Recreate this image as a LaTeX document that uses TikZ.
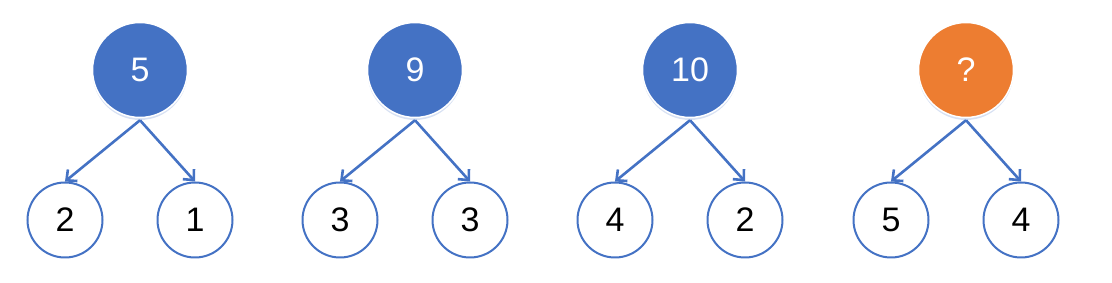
\documentclass[tikz,border=0pt]{standalone}
\usepackage{fontspec}
\setmainfont{Liberation Sans}
\usetikzlibrary{arrows.meta,positioning,shadows}
\definecolor{nodeblue}{HTML}{4472C4}
\definecolor{nodeorange}{HTML}{ED7D31}

\begin{document}
\begin{tikzpicture}[x=1pt,y=1pt,
  sum/.style={circle,draw=white,line width=1.5pt,fill=#1,minimum size=95pt,inner sep=0pt,text=white,font=\fontsize{34}{40}\selectfont,
    drop shadow={shadow xshift=0pt,shadow yshift=-2.5pt,opacity=0.35,fill=nodeblue!60}},
  part/.style={circle,draw=nodeblue,line width=2pt,fill=white,minimum size=75pt,inner sep=0pt,font=\fontsize{34}{40}\selectfont},
  e/.style={draw=nodeblue,line width=2.6pt,-{Straight Barb[length=8pt,width=15pt]}}
]
\useasboundingbox (0,0) rectangle (1112,283);
\foreach \i/\x/\s/\a/\b/\c in {1/140/5/2/1/nodeblue,2/415/9/3/3/nodeblue,3/690/10/4/2/nodeblue,4/966/?/5/4/nodeorange} {
  \node[sum=\c] (s\i) at (\x,213) {\s};
  \node[part] (a\i) at (\x-75,63) {\a};
  \node[part] (b\i) at (\x+55,63) {\b};
  \coordinate (o\i) at ([yshift=-2pt]s\i.south);
  \draw[e] (o\i) -- (a\i.north);
  \draw[e] (o\i) -- (b\i.north);
}
\end{tikzpicture}
\end{document}
